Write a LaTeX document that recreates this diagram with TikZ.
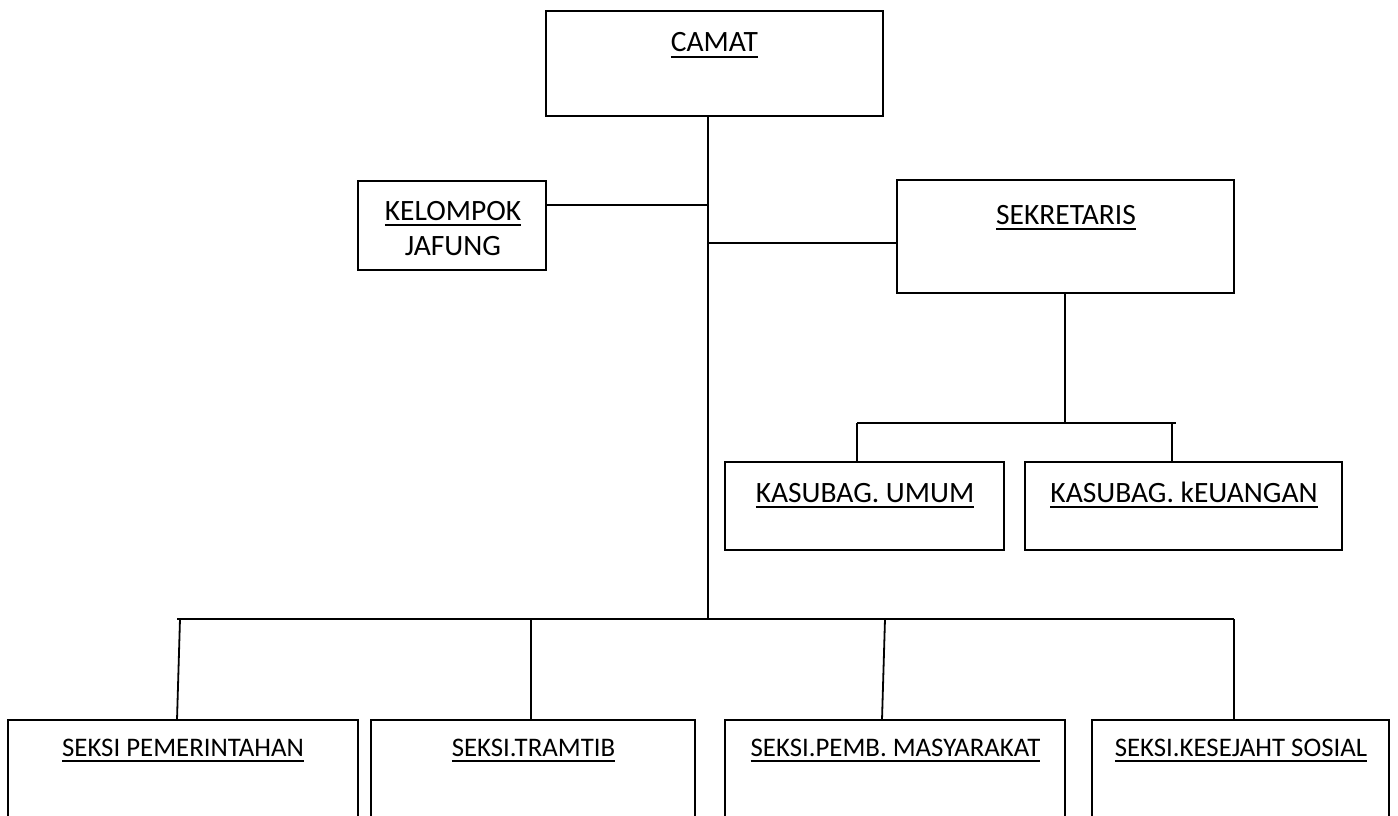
\documentclass[tikz,border=0pt]{standalone}
\usepackage{fontspec}
\setmainfont{Carlito}
\newcommand\ulbox[1]{\setbox0\hbox{#1}\rlap{\rule[-5.8pt]{\wd0}{1.9pt}}\box0}
\begin{document}
\begin{tikzpicture}[x=1pt,y=-1pt,
  box/.style={draw, line width=1.8pt, rectangle, inner sep=0pt, outer sep=0pt, anchor=north west},
  lbl/.style={anchor=base, inner sep=0pt, font=\fontsize{29.5}{34}\selectfont},
  lblb/.style={anchor=base, inner sep=0pt, font=\fontsize{26.8}{32}\selectfont},
  conn/.style={line width=1.8pt}]
\useasboundingbox (0,0) rectangle (1398,816);
\clip (0,0) rectangle (1398,816);
% boxes
\node[box, minimum width=337pt, minimum height=105pt] (camat) at (546,11) {};
\node[box, minimum width=188pt, minimum height=89pt] (kel) at (358,181) {};
\node[box, minimum width=337pt, minimum height=113pt] (sek) at (897,180) {};
\node[box, minimum width=279pt, minimum height=88pt] (umum) at (725,462) {};
\node[box, minimum width=317pt, minimum height=88pt] (keu) at (1025,462) {};
\node[box, minimum width=350pt, minimum height=130pt] (b1) at (8,720) {};
\node[box, minimum width=324pt, minimum height=130pt] (b2) at (371,720) {};
\node[box, minimum width=340pt, minimum height=130pt] (b3) at (725,720) {};
\node[box, minimum width=297pt, minimum height=130pt] (b4) at (1092,720) {};
% texts
\node[lbl] (camatT) at (714.5,52) {\ulbox{CAMAT}};
\node[lbl] (kelT1) at (453,220) {\ulbox{KELOMPOK}};
\node[lbl] (kelT2) at (453,255) {JAFUNG};
\node[lbl] (sekT) at (1066,224) {\ulbox{SEKRETARIS}};
\node[lbl] (umumT) at (865,502) {\ulbox{KASUBAG. UMUM}};
\node[lbl] (keuT) at (1184,502) {\ulbox{KASUBAG. kEUANGAN}};
\node[lblb] (b1T) at (183,756) {\ulbox{SEKSI PEMERINTAHAN}};
\node[lblb] (b2T) at (533.5,756) {\ulbox{SEKSI.TRAMTIB}};
\node[lblb] (b3T) at (895.5,756) {\ulbox{SEKSI.PEMB. MASYARAKAT}};
\node[lblb] (b4T) at (1241,756) {\ulbox{SEKSI.KESEJAHT SOSIAL}};
% connector points
\coordinate (spine) at (708,619);
\coordinate (kj) at (708,205);
\coordinate (sj) at (708,243);
\coordinate (sb) at (1065,423);
\coordinate (sbl) at (857,423);
\coordinate (sbr) at (1176,423);
\coordinate (sbr2) at (1172,423);
\coordinate (bl) at (177,619);
\coordinate (br) at (1234,619);
\coordinate (d1) at (180,619);
\coordinate (e1) at (177,720);
\coordinate (d2) at (531,619);
\coordinate (d3) at (885,619);
\coordinate (e3) at (882,720);
% connectors
\draw[conn] (camat.south -| spine) -- (spine);
\draw[conn] (kj -| kel.east) -- (kj);
\draw[conn] (sj) -- (sj -| sek.west);
\draw[conn] (sek.south -| sb) -- (sb);
\draw[conn] (sbl) -- (sbr);
\draw[conn] (sbl) -- (sbl |- umum.north);
\draw[conn] (sbr2) -- (sbr2 |- keu.north);
\draw[conn] (bl) -- (br);
\draw[conn] (d1) -- (e1);
\draw[conn] (d2) -- (d2 |- b2.north);
\draw[conn] (d3) -- (e3);
\draw[conn] (br) -- (br |- b4.north);
\end{tikzpicture}
\end{document}
